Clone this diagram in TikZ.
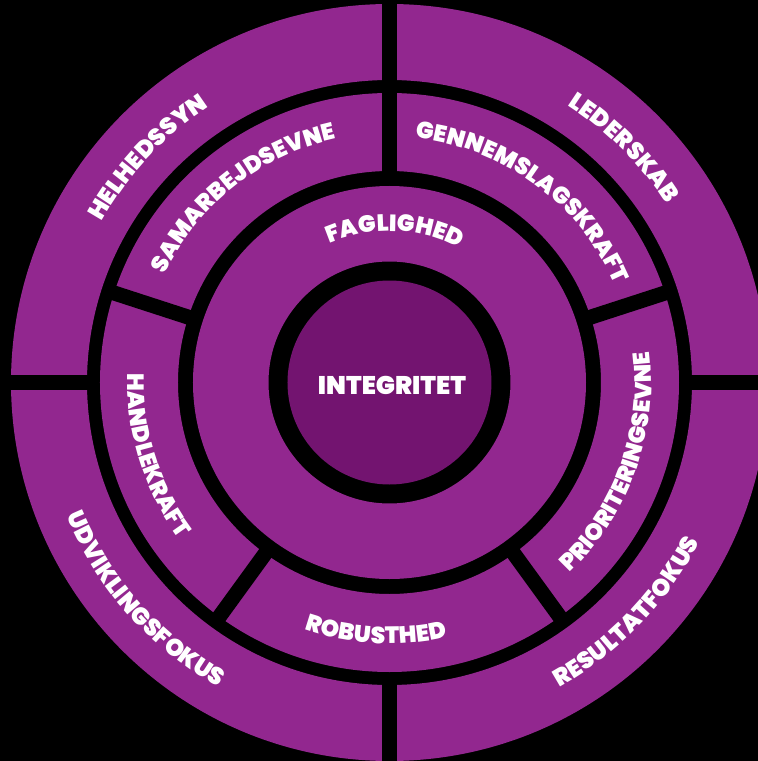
\documentclass[tikz,border=0pt]{standalone}
\usepackage{fontspec}
\newfontfamily\heavy{Poppins Black}
\usetikzlibrary{decorations.text}
\definecolor{ringpurple}{RGB}{146,39,143}
\definecolor{corepurple}{RGB}{115,20,112}
\tikzset{
  ringfill/.style={fill=ringpurple, even odd rule},
  gapline/.style={draw=black, line width=15pt},
  arclabel/.style 2 args={decorate, decoration={text along path, text align=center, text color=white,
      text={|\heavy\fontsize{#1}{#1}\selectfont|#2}}},
}
\begin{document}
\begin{tikzpicture}[x=1pt,y=1pt]
\useasboundingbox (-389.5,-378.5) rectangle (368.5,382.5);
\fill[black] (-389.5,-378.5) rectangle (368.5,382.5);
\clip (-389.5,-378.5) rectangle (368.5,382.5);
% rings
\fill[ringfill] (0,0) circle[radius=378.5] circle[radius=302.5];
\fill[ringfill] (0,0) circle[radius=289.5] circle[radius=211.5];
\fill[ringfill] (0,0) circle[radius=196.5] circle[radius=121];
\fill[corepurple] (0,0) circle[radius=102];
% outer dividers
\foreach \a in {0,90,180,270} \draw[gapline] (\a:300) -- (\a:382);
% middle dividers
\foreach \a in {90,18,306,234,162} \draw[gapline] (\a:209) -- (\a:292);
% centre
\node[text=white, font=\heavy\fontsize{25.5}{25.5}\selectfont, inner sep=0pt] (core) at (2.5,-3) {INTEGRITET};
% outer labels
\path[arclabel={24}{HELHEDSSYN}] (187:329.5) arc[start angle=187, end angle=87, radius=329.5];
\path[arclabel={24}{LEDERSKAB}] (95:329.5) arc[start angle=95, end angle=-5, radius=329.5];
\path[arclabel={24}{UDVIKLINGSFOKUS}] (171.6:349.5) arc[start angle=171.6, end angle=271.6, radius=349.5];
\path[arclabel={24}{RESULTATFOKUS}] (-94:349) arc[start angle=-94, end angle=6, radius=349];
% middle labels
\path[arclabel={23.5}{SAMARBEJDSEVNE}] (178.3:249.3) arc[start angle=178.3, end angle=78.3, radius=249.3];
\path[arclabel={23.5}{GENNEMSLAGSKRAFT}] (103.7:245.8) arc[start angle=103.7, end angle=3.7, radius=245.8];
\path[arclabel={23.5}{PRIORITERINGSEVNE}] (-69.9:262) arc[start angle=-69.9, end angle=30.1, radius=262];
\path[arclabel={23.5}{HANDLEKRAFT}] (147.4:262) arc[start angle=147.4, end angle=247.4, radius=262];
\path[arclabel={23.5}{ROBUSTHED}] (216.9:261.2) arc[start angle=216.9, end angle=316.9, radius=261.2];
% inner label
\path[arclabel={23.5}{FAGLIGHED}] (147.9:151.4) arc[start angle=147.9, end angle=27.9, radius=151.4];
\end{tikzpicture}
\end{document}
